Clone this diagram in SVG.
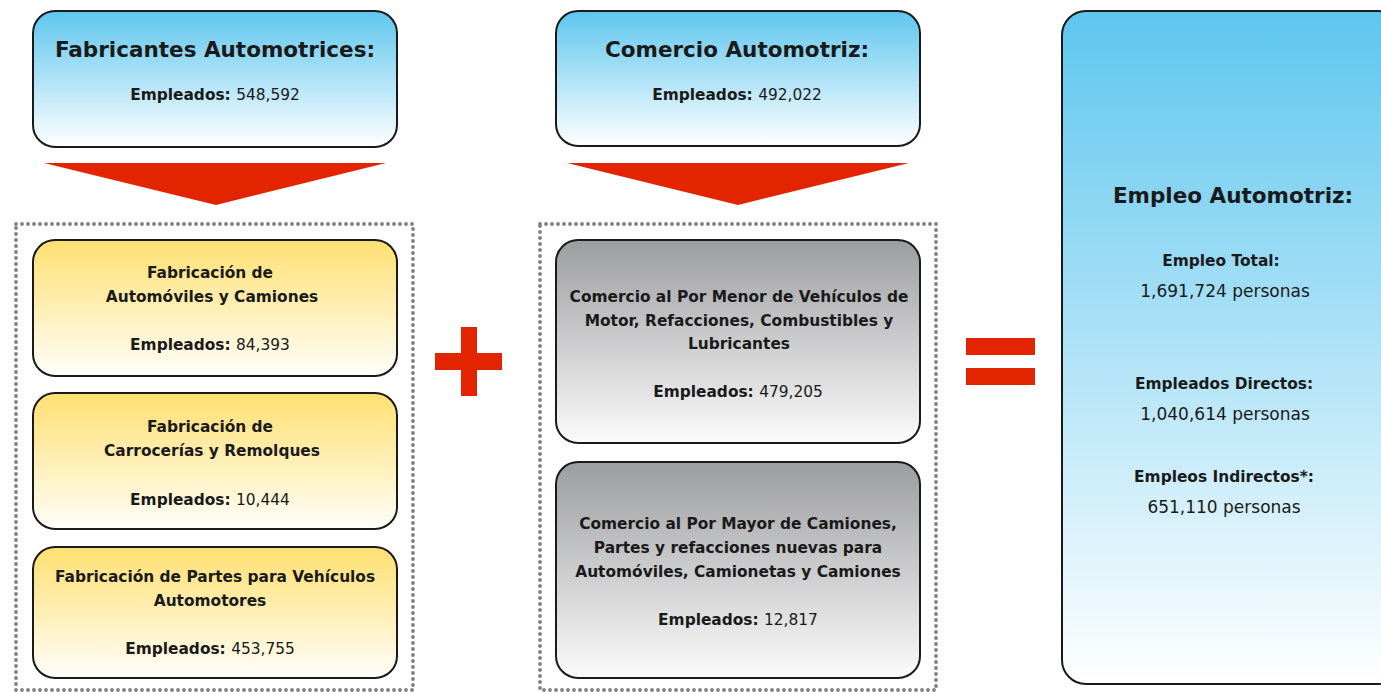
<svg xmlns="http://www.w3.org/2000/svg" width="1381" height="692" viewBox="0 0 1381 692">
<defs>
<linearGradient id="gBlue" x1="0" y1="0" x2="0" y2="1">
<stop offset="0" stop-color="#5ec6ee"/>
<stop offset="1" stop-color="#ffffff"/>
</linearGradient>
<linearGradient id="gYellow" x1="0" y1="0" x2="0" y2="1">
<stop offset="0" stop-color="#ffe071"/>
<stop offset="1" stop-color="#fffefa"/>
</linearGradient>
<linearGradient id="gGray" x1="0" y1="0" x2="0" y2="1">
<stop offset="0" stop-color="#9c9d9f"/>
<stop offset="1" stop-color="#fbfbfb"/>
</linearGradient>
<style>
.box{stroke:#1a1a1a;stroke-width:2}
.dots{fill:none;stroke:#808080;stroke-width:3.8;stroke-linecap:round;stroke-dasharray:0 6}
.sym{fill:#e32400}
text{font-family:"DejaVu Sans","Liberation Sans",sans-serif;fill:#1a1a1a;text-anchor:middle}
.t1{font-size:21.5px;font-weight:bold}
.t2{font-size:15.4px;font-weight:bold}
.n{font-weight:normal}
.t3{font-size:17px}
</style>
</defs>

<g id="groups">
<rect class="dots" x="16" y="224" width="397" height="466"/>
<rect class="dots" x="540" y="224" width="396" height="466"/>
</g>

<g id="connectors">
<polygon class="sym" points="44,163 386,163 216,205"/>
<polygon class="sym" points="567,163 909,163 738,205"/>
<path class="sym" d="M461,327h16v26h25v17h-25v26h-16v-26h-26v-17h26z"/>
<rect class="sym" x="966" y="338" width="69" height="17"/>
<rect class="sym" x="966" y="368" width="69" height="17"/>
</g>

<g id="fabricantes">
<rect class="box" x="33" y="11" width="364" height="136" rx="22" fill="url(#gBlue)"/>
<text class="t1" x="215" y="57">Fabricantes Automotrices:</text>
<text class="t2" x="215" y="100">Empleados: <tspan class="n">548,592</tspan></text>
</g>

<g id="comercio">
<rect class="box" x="556" y="11" width="364" height="135" rx="22" fill="url(#gBlue)"/>
<text class="t1" x="737" y="57">Comercio Automotriz:</text>
<text class="t2" x="737" y="100">Empleados: <tspan class="n">492,022</tspan></text>
</g>

<g id="fab-autos">
<rect class="box" x="33" y="240" width="364" height="136" rx="22" fill="url(#gYellow)"/>
<text class="t2" x="210" y="278">Fabricación de</text>
<text class="t2" x="212" y="302">Automóviles y Camiones</text>
<text class="t2" x="210" y="350">Empleados: <tspan class="n">84,393</tspan></text>
</g>

<g id="fab-carrocerias">
<rect class="box" x="33" y="393" width="364" height="136" rx="22" fill="url(#gYellow)"/>
<text class="t2" x="210" y="432">Fabricación de</text>
<text class="t2" x="212" y="456">Carrocerías y Remolques</text>
<text class="t2" x="210" y="505">Empleados: <tspan class="n">10,444</tspan></text>
</g>

<g id="fab-partes">
<rect class="box" x="33" y="547" width="364" height="131" rx="22" fill="url(#gYellow)"/>
<text class="t2" x="215" y="582">Fabricación de Partes para Vehículos</text>
<text class="t2" x="210" y="606">Automotores</text>
<text class="t2" x="210" y="654">Empleados: <tspan class="n">453,755</tspan></text>
</g>

<g id="com-menor">
<rect class="box" x="556" y="240" width="364" height="203" rx="22" fill="url(#gGray)"/>
<text class="t2" x="739" y="302">Comercio al Por Menor de Vehículos de</text>
<text class="t2" x="739" y="326">Motor, Refacciones, Combustibles y</text>
<text class="t2" x="739" y="349">Lubricantes</text>
<text class="t2" x="738" y="397">Empleados: <tspan class="n">479,205</tspan></text>
</g>

<g id="com-mayor">
<rect class="box" x="556" y="462" width="364" height="216" rx="22" fill="url(#gGray)"/>
<text class="t2" x="738" y="529">Comercio al Por Mayor de Camiones,</text>
<text class="t2" x="738" y="553">Partes y refacciones nuevas para</text>
<text class="t2" x="738" y="577">Automóviles, Camionetas y Camiones</text>
<text class="t2" x="738" y="625">Empleados: <tspan class="n">12,817</tspan></text>
</g>

<g id="empleo">
<rect class="box" x="1062" y="11" width="340" height="673" rx="24" fill="url(#gBlue)"/>
<text class="t1" x="1233" y="203">Empleo Automotriz:</text>
<text class="t2" x="1221" y="266">Empleo Total:</text>
<text class="t3" x="1225" y="297">1,691,724 personas</text>
<text class="t2" x="1224" y="389">Empleados Directos:</text>
<text class="t3" x="1225" y="420">1,040,614 personas</text>
<text class="t2" x="1224" y="482">Empleos Indirectos*:</text>
<text class="t3" x="1224" y="513">651,110 personas</text>
</g>
</svg>
